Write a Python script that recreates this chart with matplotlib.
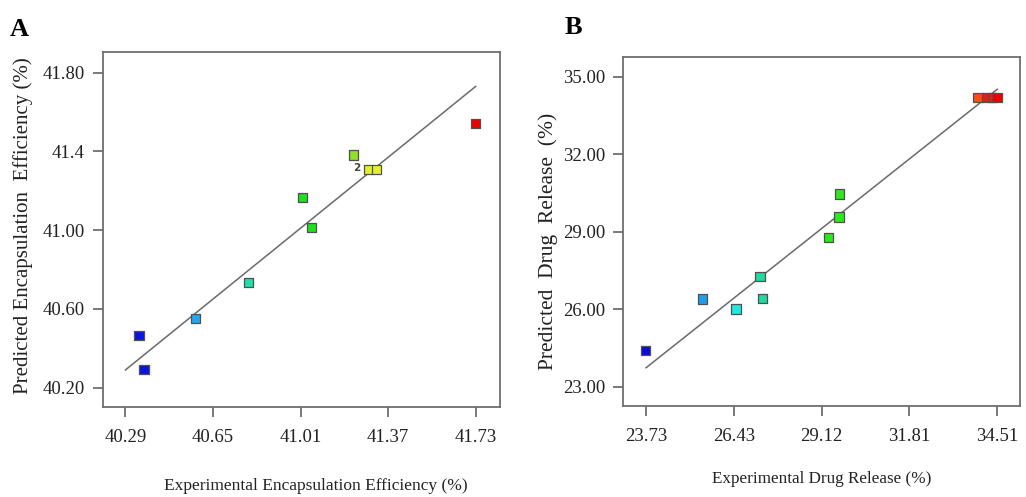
import numpy as np
import matplotlib
matplotlib.use("Agg")
import matplotlib.pyplot as plt

plt.rcParams['font.family'] = ['Liberation Serif', 'DejaVu Serif']

# panel A - encapsulation efficiency
ee_actual = [41.73, 41.227, 41.29, 41.323, 41.019, 41.056, 40.797, 40.578, 40.346, 40.366]
ee_pred = [41.543, 41.382, 41.309, 41.309, 41.165, 41.014, 40.735, 40.552, 40.464, 40.294]
ee_colors = ["#ee0000", "#8ee02a", "#e2f226", "#e2f226", "#1ee01e", "#1ee01e",
             "#20e0a8", "#1ea8f0", "#0a14e0", "#0a14e0"]
ee_xticks = [40.29, 40.65, 41.01, 41.37, 41.73]
ee_yticks = [40.20, 40.60, 41.00, 41.4, 41.80]
ee_yticklabels = ["40.20", "40.60", "41.00", "41.4", "41.80"]

# panel B - drug release
dr_actual = [33.92, 34.20, 34.36, 34.50, 29.66, 29.65, 29.34, 27.23, 27.31, 25.47, 26.49, 23.71]
dr_pred = [34.19, 34.19, 34.19, 34.19, 30.45, 29.56, 28.78, 27.26, 26.41, 26.39, 26.00, 24.41]
dr_colors = ["#ff4a10", "#ee1a10", "#ee1a10", "#ee0000", "#2ee81e", "#2ee81e", "#2ee81e",
             "#20d8a0", "#20d8a0", "#1e9ee8", "#20e8e0", "#0a0ad8"]
dr_xticks = [23.73, 26.43, 29.12, 31.81, 34.51]
dr_yticks = [23.00, 26.00, 29.00, 32.00, 35.00]

W, H = 1026, 497
fig = plt.figure(figsize=(W / 100, H / 100), dpi=100)
axA = fig.add_axes([0.1004, 0.1811, 0.3869, 0.7143])
axB = fig.add_axes([0.6075, 0.1837, 0.3867, 0.7022])


def style(ax, xticks, yticks, yticklabels, xlim, ylim):
    for s in ax.spines.values():
        s.set_color("#6e6e6e")
        s.set_linewidth(1.3)
    ax.set_xticks(xticks)
    ax.set_xticklabels(["%.2f" % v for v in xticks])
    ax.set_yticks(yticks)
    ax.set_yticklabels(yticklabels)
    ax.set_xlim(*xlim)
    ax.set_ylim(*ylim)
    ax.tick_params(direction="out", length=7, width=1.3, color="#6e6e6e",
                   labelsize=13.5, labelcolor="#222222")
    ax.tick_params(axis="x", pad=9)
    ax.tick_params(axis="y", pad=6)


axA.plot([ee_xticks[0], ee_xticks[-1]], [ee_xticks[0], ee_xticks[-1]], color="#6a6a6a", lw=1.1, zorder=2)
axA.scatter(ee_actual, ee_pred, marker="s", s=45, c=ee_colors, edgecolors="#505050", linewidths=0.9, zorder=3)
axA.text(41.29 - 0.035, 41.309 + 0.008, "2", fontsize=7.5, family="DejaVu Sans", fontweight="bold",
         color="#444444", ha="right", va="center")
style(axA, ee_xticks, ee_yticks, ee_yticklabels, (40.198, 41.83), (40.102, 41.905))

axB.plot([dr_xticks[0], dr_xticks[-1]], [dr_xticks[0], dr_xticks[-1]], color="#6a6a6a", lw=1.1, zorder=2)
axB.scatter(dr_actual, dr_pred, marker="s", s=45, c=dr_colors, edgecolors="#505050", linewidths=0.9, zorder=3)
style(axB, dr_xticks, dr_yticks, ["%.2f" % v for v in dr_yticks], (23.03, 35.21), (22.26, 35.77))

# axis titles placed in pixel positions of the original
fig.text(316 / W, 1 - 486 / H, "Experimental Encapsulation Efficiency (%)", fontsize=12.5,
         ha="center", va="center", color="#222222")
fig.text(23 / W, 1 - 226 / H, "Predicted Encapsulation  Efficiency (%)", fontsize=15,
         rotation=90, ha="center", va="center", color="#222222")
fig.text(822 / W, 1 - 479 / H, "Experimental Drug Release (%)", fontsize=12.3,
         ha="center", va="center", color="#222222")
fig.text(548 / W, 1 - 241 / H, "Predicted  Drug  Release  (%)", fontsize=15.5,
         rotation=90, ha="center", va="center", color="#222222")

fig.text(10 / W, 1 - 29 / H, "A", fontsize=19, fontweight="bold", va="center")
fig.text(565 / W, 1 - 27 / H, "B", fontsize=19, fontweight="bold", va="center")

fig.savefig("out.png", dpi=100)
